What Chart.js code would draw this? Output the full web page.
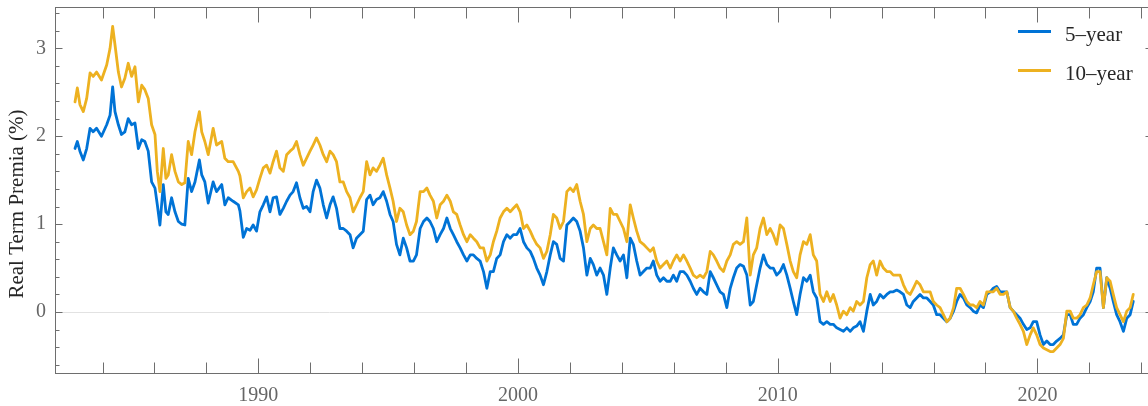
<!DOCTYPE html>
<html>
<head>
<meta charset="utf-8">
<script src="https://cdn.jsdelivr.net/npm/chart.js@4.4.1/dist/chart.umd.min.js"></script>
<style>
  html, body { margin: 0; padding: 0; background: #fff; overflow: hidden; width: 1148px; height: 406px; }
  #wrap { width: 1160px; height: 406px; }
</style>
</head>
<body>
<div id="wrap"><canvas id="c" width="1160" height="406"></canvas></div>
<script>
// ---- data ----
const dates = [
  1982.94, 1983.03, 1983.13, 1983.26, 1983.39, 1983.52, 1983.64, 1983.77, 1983.96, 1984.16, 1984.29, 1984.39, 1984.48, 1984.61, 1984.73, 1984.86, 1984.99, 1985.12, 1985.25, 1985.38, 1985.51, 1985.63, 1985.76, 1985.89, 1986.02, 1986.11, 1986.21, 1986.34, 1986.44, 1986.53, 1986.66, 1986.79, 1986.92, 1987.05, 1987.17, 1987.30, 1987.43, 1987.56, 1987.73, 1987.82, 1987.94, 1988.07, 1988.26, 1988.39, 1988.59, 1988.71, 1988.84, 1989.03, 1989.23,
  1989.29, 1989.42, 1989.55, 1989.68, 1989.80, 1989.93, 1990.06, 1990.19, 1990.32, 1990.45, 1990.57, 1990.70, 1990.83, 1990.96, 1991.09, 1991.22, 1991.34, 1991.47, 1991.60, 1991.73, 1991.86, 1991.99, 1992.11, 1992.24, 1992.37, 1992.50, 1992.63, 1992.76, 1992.88, 1993.01, 1993.14, 1993.27, 1993.40, 1993.53, 1993.65, 1993.78, 1993.91, 1994.04, 1994.17, 1994.30, 1994.42, 1994.55, 1994.68, 1994.81, 1994.94, 1995.07, 1995.19, 1995.32, 1995.45, 1995.58, 1995.71, 1995.84, 1995.97, 1996.09,
  1996.23, 1996.36, 1996.49, 1996.61, 1996.74, 1996.87, 1997.00, 1997.13, 1997.26, 1997.39, 1997.51, 1997.64, 1997.77, 1997.90, 1998.03, 1998.16, 1998.28, 1998.41, 1998.54, 1998.67, 1998.80, 1998.93, 1999.05, 1999.18, 1999.31, 1999.44, 1999.57, 1999.70, 1999.82, 1999.95, 2000.08, 2000.21, 2000.34, 2000.47, 2000.59, 2000.72, 2000.85, 2000.98, 2001.11, 2001.24, 2001.36, 2001.49, 2001.62, 2001.75, 2001.88, 2002.01, 2002.13, 2002.26, 2002.39, 2002.52, 2002.65, 2002.78, 2002.90, 2003.03,
  2003.16, 2003.29, 2003.42, 2003.55, 2003.67, 2003.80, 2003.93, 2004.06, 2004.19, 2004.32, 2004.44, 2004.57, 2004.70, 2004.83, 2004.96, 2005.09, 2005.21, 2005.34, 2005.47, 2005.60, 2005.73, 2005.86, 2005.98, 2006.11, 2006.24, 2006.37, 2006.50, 2006.63, 2006.75, 2006.88, 2007.01, 2007.14, 2007.27, 2007.40, 2007.52, 2007.65, 2007.78, 2007.91, 2008.04, 2008.17, 2008.29, 2008.42, 2008.55, 2008.68, 2008.81, 2008.94, 2009.06, 2009.19, 2009.32, 2009.45, 2009.58, 2009.71, 2009.83, 2009.96,
  2010.09, 2010.22, 2010.35, 2010.48, 2010.60, 2010.73, 2010.86, 2010.99, 2011.12, 2011.25, 2011.37, 2011.50, 2011.63, 2011.76, 2011.89, 2012.02, 2012.14, 2012.27, 2012.40, 2012.53, 2012.66, 2012.79, 2012.91, 2013.04, 2013.17, 2013.30, 2013.43, 2013.56, 2013.68, 2013.81, 2013.94, 2014.07, 2014.20, 2014.33, 2014.45, 2014.58, 2014.71, 2014.84, 2014.97, 2015.10, 2015.22, 2015.35, 2015.48, 2015.61, 2015.74, 2015.87, 2015.99, 2016.12, 2016.25, 2016.38, 2016.51, 2016.64, 2016.77, 2016.89,
  2017.02, 2017.15, 2017.28, 2017.41, 2017.53, 2017.66, 2017.79, 2017.92, 2018.05, 2018.18, 2018.30, 2018.43, 2018.56, 2018.69, 2018.82, 2018.95, 2019.07, 2019.20, 2019.33, 2019.46, 2019.59, 2019.72, 2019.84, 2019.97, 2020.10, 2020.23, 2020.36, 2020.49, 2020.61, 2020.74, 2020.87, 2021.00, 2021.13, 2021.26, 2021.38, 2021.51, 2021.64, 2021.77, 2021.90, 2022.03, 2022.15, 2022.28, 2022.41, 2022.54, 2022.67, 2022.80, 2022.92, 2023.05, 2023.18, 2023.31, 2023.44, 2023.57, 2023.69
];

const fiveYear = [
  1.86, 1.94, 1.83, 1.73, 1.86, 2.09, 2.05, 2.09, 2.00, 2.13, 2.24, 2.56, 2.28, 2.13, 2.02, 2.05, 2.20, 2.13, 2.15, 1.86, 1.96, 1.94, 1.83, 1.48, 1.41, 1.22, 0.99, 1.45, 1.14, 1.11, 1.30, 1.14, 1.03, 1.00, 0.99, 1.52, 1.37, 1.48, 1.73, 1.56, 1.48, 1.24, 1.48, 1.37, 1.45, 1.22, 1.30, 1.26, 1.22,
  1.15, 0.85, 0.95, 0.93, 0.99, 0.92, 1.14, 1.22, 1.31, 1.14, 1.30, 1.31, 1.11, 1.18, 1.26, 1.33, 1.37, 1.47, 1.30, 1.18, 1.20, 1.14, 1.37, 1.50, 1.41, 1.22, 1.07, 1.22, 1.31, 1.18, 0.95, 0.95, 0.92, 0.88, 0.73, 0.84, 0.88, 0.92, 1.28, 1.33, 1.22, 1.28, 1.30, 1.37, 1.26, 1.11, 1.03, 0.77, 0.65, 0.84, 0.73, 0.58, 0.58, 0.65,
  0.95, 1.03, 1.07, 1.03, 0.95, 0.80, 0.88, 0.95, 1.07, 0.95, 0.88, 0.80, 0.73, 0.65, 0.58, 0.65, 0.65, 0.61, 0.58, 0.46, 0.27, 0.46, 0.46, 0.61, 0.65, 0.80, 0.88, 0.84, 0.88, 0.88, 0.95, 0.80, 0.73, 0.69, 0.61, 0.50, 0.42, 0.31, 0.46, 0.65, 0.80, 0.77, 0.61, 0.58, 0.99, 1.03, 1.07, 1.03, 0.92, 0.73, 0.42, 0.61, 0.54, 0.42,
  0.50, 0.42, 0.20, 0.50, 0.73, 0.65, 0.58, 0.65, 0.39, 0.84, 0.77, 0.58, 0.42, 0.46, 0.50, 0.50, 0.58, 0.42, 0.35, 0.39, 0.35, 0.35, 0.42, 0.35, 0.46, 0.46, 0.42, 0.35, 0.27, 0.20, 0.27, 0.23, 0.20, 0.46, 0.39, 0.31, 0.23, 0.20, 0.05, 0.27, 0.39, 0.50, 0.54, 0.52, 0.42, 0.08, 0.12, 0.31, 0.50, 0.65, 0.54, 0.50, 0.50, 0.42,
  0.46, 0.54, 0.42, 0.27, 0.12, -0.03, 0.20, 0.39, 0.35, 0.42, 0.23, 0.16, -0.11, -0.14, -0.11, -0.14, -0.14, -0.18, -0.20, -0.22, -0.18, -0.22, -0.18, -0.16, -0.11, -0.22, 0.01, 0.20, 0.08, 0.12, 0.20, 0.16, 0.20, 0.23, 0.23, 0.25, 0.23, 0.20, 0.08, 0.05, 0.12, 0.16, 0.20, 0.16, 0.16, 0.12, 0.08, -0.03, -0.03, -0.07, -0.11, -0.07, 0.01, 0.12,
  0.20, 0.16, 0.08, 0.05, 0.01, -0.01, 0.08, 0.05, 0.20, 0.23, 0.27, 0.29, 0.23, 0.23, 0.23, 0.05, 0.01, -0.03, -0.07, -0.14, -0.20, -0.18, -0.11, -0.11, -0.26, -0.37, -0.33, -0.37, -0.37, -0.33, -0.30, -0.26, -0.03, -0.03, -0.14, -0.14, -0.07, -0.03, 0.05, 0.12, 0.23, 0.50, 0.50, 0.05, 0.39, 0.27, 0.12, -0.03, -0.11, -0.22, -0.07, -0.03, 0.12
];

const tenYear = [
  2.39, 2.55, 2.36, 2.28, 2.43, 2.72, 2.68, 2.73, 2.64, 2.81, 3.00, 3.25, 3.04, 2.73, 2.56, 2.66, 2.83, 2.68, 2.79, 2.39, 2.58, 2.53, 2.43, 2.13, 2.02, 1.60, 1.37, 1.86, 1.52, 1.56, 1.79, 1.60, 1.48, 1.45, 1.47, 1.94, 1.79, 2.05, 2.28, 2.05, 1.94, 1.79, 2.09, 1.90, 1.94, 1.75, 1.71, 1.71, 1.60,
  1.55, 1.30, 1.37, 1.41, 1.31, 1.39, 1.52, 1.64, 1.67, 1.58, 1.71, 1.83, 1.64, 1.60, 1.79, 1.83, 1.86, 1.94, 1.79, 1.67, 1.75, 1.83, 1.90, 1.98, 1.90, 1.79, 1.71, 1.83, 1.79, 1.71, 1.48, 1.48, 1.37, 1.30, 1.14, 1.22, 1.30, 1.37, 1.71, 1.56, 1.64, 1.60, 1.67, 1.75, 1.56, 1.41, 1.26, 1.03, 1.18, 1.14, 0.99, 0.88, 0.92, 1.03,
  1.37, 1.37, 1.41, 1.33, 1.26, 1.07, 1.22, 1.26, 1.33, 1.26, 1.14, 1.11, 0.99, 0.88, 0.80, 0.88, 0.84, 0.80, 0.73, 0.73, 0.58, 0.65, 0.80, 0.92, 1.07, 1.14, 1.18, 1.14, 1.18, 1.22, 1.14, 0.95, 0.99, 0.92, 0.84, 0.77, 0.73, 0.61, 0.69, 0.88, 1.11, 1.07, 0.95, 1.03, 1.37, 1.41, 1.37, 1.45, 1.26, 1.11, 0.80, 0.95, 0.99, 0.95,
  0.95, 0.80, 0.65, 1.18, 1.11, 1.11, 1.03, 0.95, 0.80, 1.22, 1.07, 0.92, 0.80, 0.77, 0.73, 0.69, 0.73, 0.58, 0.50, 0.54, 0.58, 0.50, 0.58, 0.65, 0.58, 0.65, 0.58, 0.50, 0.42, 0.39, 0.42, 0.39, 0.46, 0.69, 0.65, 0.58, 0.50, 0.46, 0.58, 0.65, 0.77, 0.80, 0.77, 0.80, 1.07, 0.42, 0.65, 0.73, 0.95, 1.07, 0.88, 0.95, 0.88, 0.77,
  0.99, 0.95, 0.77, 0.58, 0.46, 0.39, 0.65, 0.80, 0.77, 0.88, 0.65, 0.58, 0.20, 0.12, 0.23, 0.12, 0.20, 0.08, -0.07, 0.01, -0.03, 0.05, 0.01, 0.12, 0.08, 0.12, 0.39, 0.54, 0.58, 0.42, 0.58, 0.50, 0.46, 0.46, 0.42, 0.42, 0.42, 0.31, 0.23, 0.20, 0.27, 0.35, 0.31, 0.23, 0.23, 0.23, 0.12, 0.08, 0.05, -0.03, -0.11, -0.07, 0.05, 0.27,
  0.27, 0.20, 0.12, 0.08, 0.08, 0.05, 0.12, 0.08, 0.23, 0.23, 0.23, 0.27, 0.20, 0.20, 0.23, 0.05, 0.01, -0.07, -0.14, -0.22, -0.37, -0.26, -0.18, -0.26, -0.37, -0.41, -0.43, -0.45, -0.45, -0.41, -0.37, -0.30, 0.01, 0.01, -0.07, -0.07, -0.03, 0.05, 0.08, 0.16, 0.31, 0.46, 0.46, 0.05, 0.39, 0.35, 0.20, 0.05, -0.03, -0.11, 0.01, 0.05, 0.20
];

const seriesLabels = ['5\u2013year', '10\u2013year'];
const seriesColors = ['#0073D6', '#EDB120'];
const xTickLabels = [1990, 2000, 2010, 2020];
const yTickLabels = [0, 1, 2, 3];
const yTitle = 'Real Term Premia (%)';

// ---- styling ----
const SERIF = '"Liberation Serif", "DejaVu Serif", serif';
const AXIS = '#6e6e6e';

const frame = {
  id: 'frame',
  afterDraw(chart) {
    const { ctx, chartArea: a, scales: { x, y } } = chart;
    ctx.save();
    ctx.strokeStyle = AXIS;
    ctx.lineWidth = 1;
    const L = Math.round(a.left) + 0.5, R = Math.round(a.right) - 0.5;
    const T = Math.round(a.top) + 0.5, B = Math.round(a.bottom) - 0.5;
    ctx.strokeRect(L, T, R - L, B - T);
    ctx.beginPath();
    // x ticks (inward, top and bottom)
    for (let v = 1984; v <= 2024; v += 2) {
      const px = Math.round(x.getPixelForValue(v)) + 0.5;
      const len = (v % 10 === 0) ? 15 : 11;
      ctx.moveTo(px, B); ctx.lineTo(px, B - len);
      ctx.moveTo(px, T); ctx.lineTo(px, T + len);
    }
    // y ticks (inward, left and right)
    for (let k = -3; k <= 17; k++) {
      const v = k * 0.2;
      const py = Math.round(y.getPixelForValue(v)) + 0.5;
      const len = (k % 5 === 0) ? 7 : 4;
      ctx.moveTo(L, py); ctx.lineTo(L + len, py);
      ctx.moveTo(R, py); ctx.lineTo(R - len, py);
    }
    ctx.stroke();

    // legend
    const rows = [31.5, 70.5];
    chart.data.datasets.forEach((ds, i) => {
      ctx.strokeStyle = ds.borderColor;
      ctx.lineWidth = 3;
      ctx.beginPath();
      ctx.moveTo(1018, rows[i]); ctx.lineTo(1051, rows[i]);
      ctx.stroke();
      ctx.fillStyle = '#262626';
      ctx.font = '21px ' + SERIF;
      ctx.textAlign = 'left';
      ctx.textBaseline = 'alphabetic';
      ctx.fillText(ds.label, 1065, rows[i] + 9.3);
    });

    // y title
    ctx.save();
    ctx.translate(17, 204);
    ctx.rotate(-Math.PI / 2);
    ctx.fillStyle = '#262626';
    ctx.font = '21px ' + SERIF;
    ctx.textAlign = 'center';
    ctx.textBaseline = 'middle';
    ctx.fillText(yTitle, 0, 0);
    ctx.restore();
    ctx.restore();
  }
};

const mk = (vals) => dates.map((d, i) => ({ x: d, y: vals[i] }));

new Chart(document.getElementById('c'), {
  type: 'line',
  data: {
    datasets: [
      { label: seriesLabels[0], data: mk(fiveYear), borderColor: seriesColors[0], order: 1 },
      { label: seriesLabels[1], data: mk(tenYear), borderColor: seriesColors[1], order: 0 }
    ]
  },
  options: {
    responsive: false,
    animation: false,
    events: [],
    layout: { padding: { top: 7, right: 7, left: 0, bottom: 0 } },
    elements: {
      point: { radius: 0 },
      line: { borderWidth: 2.8, tension: 0, borderJoinStyle: 'round', borderCapStyle: 'round' }
    },
    plugins: { legend: { display: false }, tooltip: { enabled: false } },
    scales: {
      x: {
        type: 'linear', min: 1982.17, max: 2024.45,
        afterBuildTicks: s => { s.ticks = xTickLabels.map(v => ({ value: v })); },
        afterFit: s => { s.height = 32; s.paddingLeft = 0; s.paddingRight = 0; },
        grid: { display: false, drawTicks: false },
        border: { display: false },
        ticks: { autoSkip: false, maxRotation: 0, padding: 10, color: '#666',
                 font: { family: SERIF, size: 20 }, callback: v => String(v) }
      },
      y: {
        type: 'linear', min: -0.705, max: 3.47,
        afterBuildTicks: s => { s.ticks = yTickLabels.map(v => ({ value: v })); },
        afterFit: s => { s.width = 55; s.paddingTop = 0; s.paddingBottom = 0; },
        grid: { drawTicks: false, lineWidth: 1,
                color: c => (c.tick && c.tick.value === 0) ? '#e2e2e2' : 'rgba(0,0,0,0)' },
        border: { display: false },
        ticks: { padding: 9, color: '#666', font: { family: SERIF, size: 20 }, callback: v => String(v) }
      }
    }
  },
  plugins: [frame]
});
</script>
</body>
</html>
